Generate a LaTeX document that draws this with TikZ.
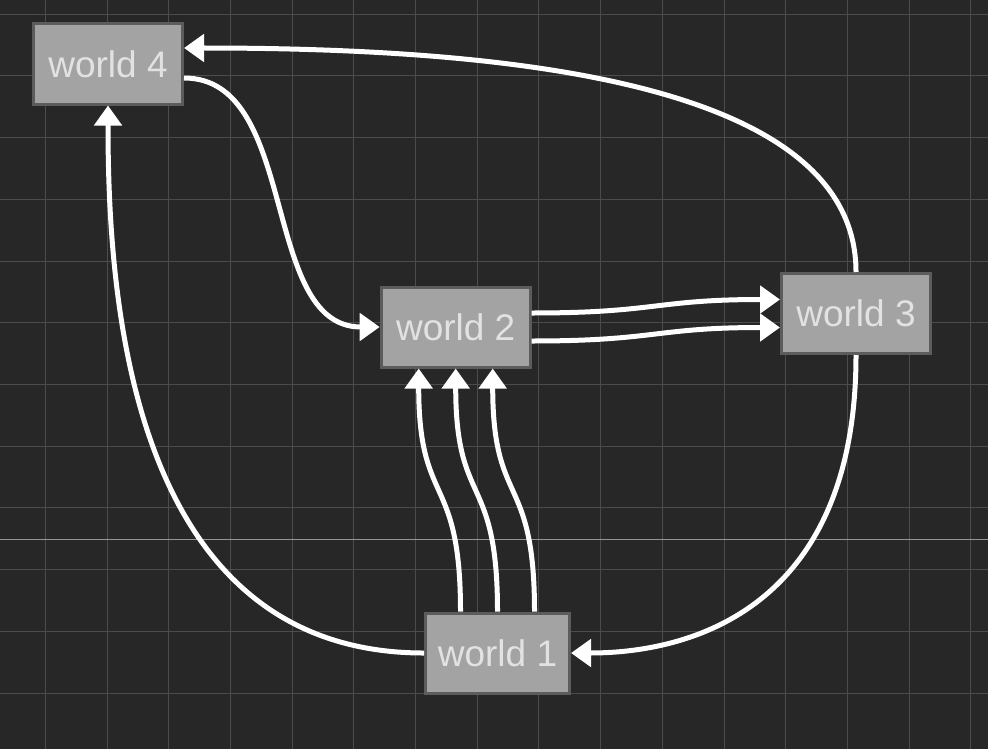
\documentclass[tikz,border=0pt]{standalone}
\usepackage{fontspec}
\setmainfont{Liberation Sans}
\usetikzlibrary{arrows.meta}
\definecolor{canvas}{HTML}{272727}
\definecolor{gridgray}{HTML}{4C4C4C}
\definecolor{axisgray}{HTML}{959595}
\definecolor{worldfill}{HTML}{A3A3A3}
\definecolor{worldedge}{HTML}{5C5C5C}
\definecolor{worldtext}{HTML}{E2E2E2}

\begin{document}
\begin{tikzpicture}[x=0.5pt,y=-0.5pt,
    gridline/.style={draw=gridgray,line width=0.5pt},
    world/.style={draw=worldedge,fill=worldfill,line width=1.5pt,text=worldtext,
      minimum width=74.5pt,minimum height=40pt,inner sep=0pt,
      font=\fontsize{18.5}{22}\selectfont},
    link/.style={draw=white,line width=2.5pt,-{Triangle[length=10pt,width=13.5pt]}}]
  \fill[canvas] (0,0) rectangle (988,749);
  \useasboundingbox (0,0) rectangle (988,749);
  \foreach \k in {0,...,15} \draw[gridline] (45.3+61.7*\k,0) -- (45.3+61.7*\k,749);
  \foreach \k in {0,...,11} \draw[gridline] (0,14.3+61.7*\k) -- (988,14.3+61.7*\k);
  \draw[draw=axisgray,line width=0.5pt] (0,539.3) -- (988,539.3);
  %
  \node[world] (w4) at (108,64) {world 4};
  \node[world] (w2) at (455.7,327) {world 2};
  \node[world] (w3) at (856,313.5) {world 3};
  \node[world,minimum width=72pt] (w1) at (497.5,653) {world 1};
  %
  \draw[link] (w3.north) .. controls +(0,-192) and +(316,0) .. ([yshift=8pt]w4.east);
  \draw[link] ([yshift=-7pt]w4.east) .. controls +(116,0) and +(-120,0) .. (w2.west);
  \draw[link] ([yshift=7pt]w2.east) .. controls +(125,0) and +(-125,0) .. ([yshift=7pt]w3.west);
  \draw[link] ([yshift=-7pt]w2.east) .. controls +(125,0) and +(-125,0) .. ([yshift=-7pt]w3.west);
  \foreach \s in {-18.5,0,18.5}
    \draw[link] ([xshift=\s pt]w1.north) .. controls +(0,-140) and +(0,140) .. ([xshift=\s pt]w2.south);
  \draw[link] (w1.west) .. controls +(-294,0) and +(0,194) .. (w4.south);
  \draw[link] (w3.south) .. controls +(0,245) and +(130,0) .. (w1.east);
\end{tikzpicture}
\end{document}
